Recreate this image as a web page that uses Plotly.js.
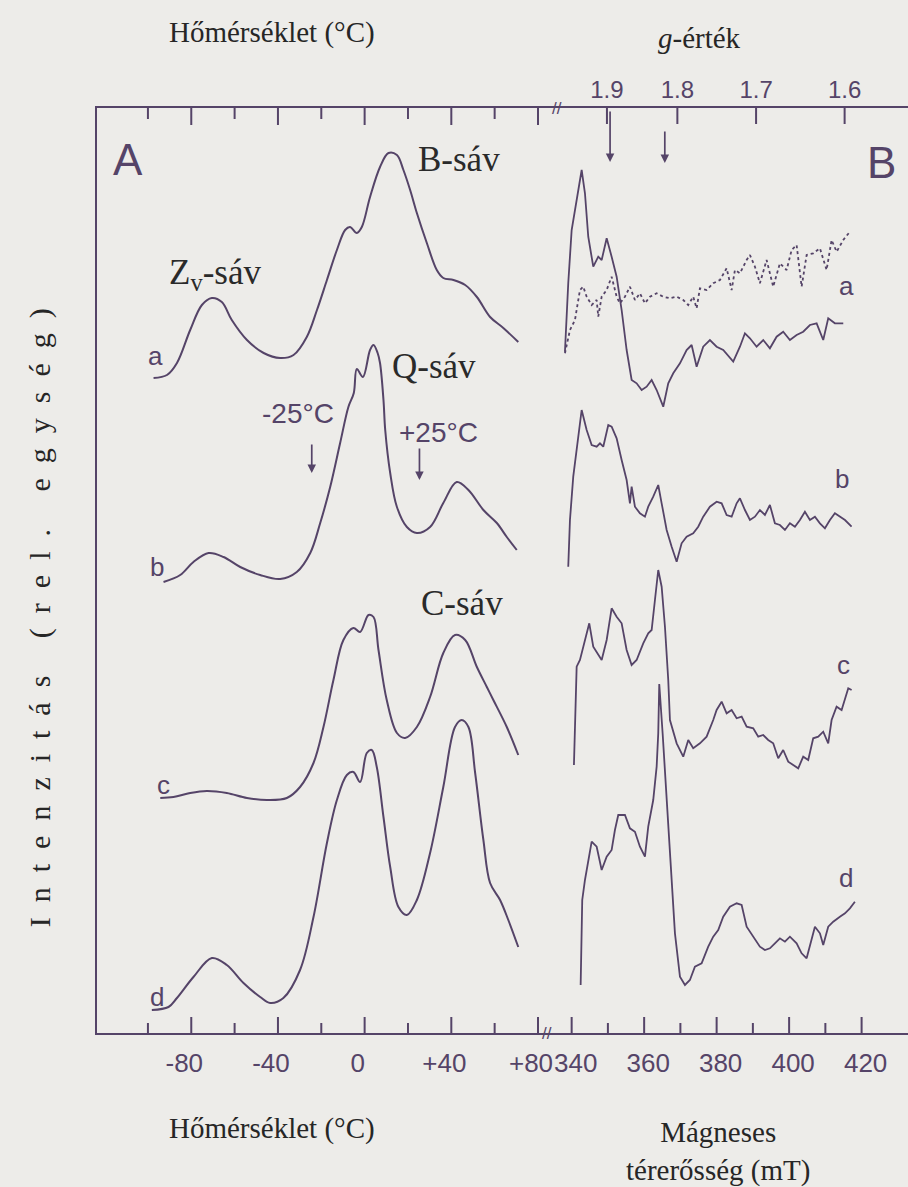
<!DOCTYPE html>
<html><head><meta charset="utf-8">
<script src="https://cdn.plot.ly/plotly-3.0.1.min.js"></script>
<style>html,body{margin:0;padding:0;background:#edece9;}#chart{width:908px;height:1187px;}</style>
</head><body><div id="chart"></div>
<script>
// ---- Panel A: glow curves, temperature (°C) vs intensity (rel. units, vertically offset) ----
const tempA = [-97.4,-91.2,-86.6,-80.5,-75.1,-70.5,-65.9,-61.3,-54.3,-46.6,-39.0,-32.8,-26.7,-22.0,-17.4,-12.8,-9.0,-6.7,-3.6,-1.3,2.5,7.1,11.0,14.9,17.9,21.0,24.1,28.7,33.3,36.3,41.0,46.4,51.8,57.9,64.0,70.9];
const glowA = [655,658,670,703,728,735,731,713,693,680,675,678,696,723,753,783,803,806,800,806,836,866,880,878,863,843,820,790,763,755,753,748,736,716,705,691];
const tempB = [-92.8,-85.1,-79.0,-72.0,-65.1,-57.4,-48.2,-39.0,-31.3,-25.1,-20.5,-15.9,-11.3,-7.5,-5.0,-3.6,-0.8,2.5,4.1,6.0,7.1,8.7,9.5,11.8,14.9,19.5,24.1,30.2,36.3,42.5,47.9,54.8,61.0,65.6,70.2];
const glowB = [451,458,471,480,476,466,458,454,461,480,510,546,590,626,640,664,656,683,688,680,670,633,603,560,526,506,500,506,530,551,543,523,510,496,483];
const tempC = [-94.3,-88.2,-80.5,-72.8,-63.6,-54.3,-45.1,-35.9,-29.8,-23.6,-19.0,-14.4,-9.8,-5.2,-2.1,1.8,4.1,6.4,10.2,14.9,18.7,24.1,30.2,36.3,41.7,46.4,51.8,56.4,59.4,65.6,70.9];
const glowC = [235,236,240,242,240,235,233,235,246,270,306,353,393,405,401,418,416,383,333,300,295,306,336,380,398,393,366,346,333,306,278];
const tempD = [-98.2,-90.5,-86.6,-79.0,-70.5,-63.6,-55.9,-48.2,-43.6,-37.5,-29.8,-23.6,-17.4,-12.8,-8.2,-5.2,-2.1,1.0,3.3,5.6,8.7,11.8,15.6,19.5,24.1,30.2,36.3,41.7,44.8,47.9,51.0,54.8,57.9,62.5,66.3,70.9];
const glowD = [23,26,35,56,75,68,50,36,30,35,63,116,190,233,258,261,251,280,283,266,216,166,126,118,133,180,246,306,313,306,260,193,150,133,113,86];

// ---- Panel B: EPR spectra, magnetic field (mT) vs intensity (rel. units, offset) ----
const fieldA = [338.15,339.06,340.0,341.38,342.76,343.67,344.58,345.96,347.34,348.28,349.66,351.03,352.41,353.79,355.17,356.55,357.93,359.31,360.69,362.07,363.45,365.27,366.65,368.03,369.88,371.72,373.1,374.48,376.3,378.15,380.0,381.82,384.58,386.43,387.81,389.19,391.03,392.86,394.7,396.55,398.37,400.22,402.07,403.89,405.74,407.59,409.41,410.79,412.63,414.94];
const eprA = [681.3,749.7,803,833,863,839.7,796.3,766.3,776.3,773,794.7,776.3,756.3,723,683,653,649.7,643,646.3,653,643,626.3,649.7,659.7,669.7,683,688,666.3,686.3,693,686.3,683,671.3,686.3,699.7,694.7,686.3,693,684.7,696.3,701.3,693,698,701.3,708,709.7,693,714.7,709.7,709.7];
const fieldA2 = [338.15,339.53,340.91,342.29,343.2,344.14,345.52,346.9,347.34,348.28,349.66,351.03,352.41,353.32,354.7,356.08,357.46,358.84,360.22,361.6,363.45,365.27,367.12,368.97,370.79,372.17,373.54,374.48,375.39,377.24,379.06,380.91,382.76,384.14,385.05,386.43,388.28,389.19,390.57,391.94,393.79,395.61,397.46,399.31,400.69,402.07,403.45,404.83,406.65,408.5,410.34,411.72,413.1,414.94,416.77];
const eprA2 = [679.7,703,713,743,746.3,736.3,728,733,716.3,736.3,743,756.3,736.3,729.7,736.3,746.3,733,739.7,729.7,736.3,739.7,736.3,734.7,736.3,733,728,736.3,724.7,744.7,743,749.7,753,764.7,743,763,759.7,773,778,766.3,749.7,773,746.3,769.7,763,783,788,746.3,778,779.7,784.7,763,793,781.3,793,801.3];
const fieldB = [339.06,339.53,340.44,341.82,342.76,344.14,345.52,346.9,347.81,348.72,350.1,351.03,352.41,353.79,355.17,356.08,356.55,357.46,358.84,360.22,361.13,362.51,363.89,364.83,366.21,367.59,368.97,370.34,371.72,373.54,374.92,376.3,378.15,380.0,381.38,382.76,384.14,385.52,386.43,387.81,389.19,390.57,391.94,393.32,394.7,396.08,397.46,398.84,400.22,401.6,402.98,404.36,405.74,407.12,408.5,409.88,411.26,412.63,414.01,415.41,417.24];
const eprB = [466.3,513,556.3,593,623,603,588,586.3,589.7,586.3,608,606.3,594.7,573,553,529.7,546.3,526.3,519.7,516.3,526.3,536.3,548,529.7,503,486.3,471.3,489.7,496.3,499.7,506.3,516.3,526.3,531.3,529.7,518,516.3,529.7,534.7,523,513,516.3,523,518,528,509.7,508,503,509.7,506.3,513,521.3,513,516.3,509.7,504.7,513,519.7,516.3,513,506.3];
const fieldC = [340.63,341.38,342.29,343.67,344.86,345.96,347.34,348.28,349.66,351.03,352.41,353.79,355.17,356.55,357.93,359.75,361.13,362.07,362.98,363.89,364.83,365.74,366.65,367.12,368.97,370.79,372.17,373.54,375.39,377.24,379.06,380.0,381.38,382.76,384.14,385.52,386.9,388.28,390.1,391.48,392.86,394.23,395.61,396.99,398.37,399.75,401.13,402.51,403.89,405.27,406.65,408.03,409.41,410.79,411.72,413.1,414.48,415.41,416.32,417.24];
const eprC = [268,366.3,373,393,409.7,386.3,378,373,393,424.7,416.3,409.7,383,368,373,389.7,399.7,403,433,463,446.3,406.3,353,313,289.7,276.3,293,284.7,289.7,296.3,313,323,331.3,319.7,323,314.7,316.3,306.3,304.7,296.3,298,293,289.7,274.7,283,271.3,268,264.7,276.3,273,294.7,296.3,301.3,289.7,313,326.3,323,333,344.7,343];
const fieldD = [342.48,342.92,343.67,344.58,345.52,346.9,348.28,349.66,351.03,351.94,352.86,354.7,356.08,357.46,358.84,360.22,361.13,362.51,363.45,363.89,364.17,365.1,366.21,367.31,368.5,369.88,371.26,372.63,374.01,375.86,377.68,379.06,380.44,381.82,383.67,385.52,386.9,388.28,390.1,391.94,393.32,394.7,396.08,397.46,398.84,400.22,402.07,403.45,404.83,406.21,407.12,408.5,409.41,410.79,412.17,414.01,415.41,416.77,418.15];
const eprD = [48,133,153,173,191.3,186.3,163,176.3,183,203,218,218,204.7,201.3,186.3,176.3,206.3,233,266.3,299.7,349,299.7,233,166.3,99.7,56.3,48,53,66.3,69.7,86.3,96.3,103,116.3,126.3,129.7,128,106.3,96.3,86.3,83,84.7,89.7,94.7,91.3,96.3,89.7,79.7,74.7,93,106.3,99.7,88,106.3,111.3,116.3,119.7,124.7,131.3];

// ---- Axis ticks ----
const tempTicks = [-80,-40,0,40,80];
const tempTickText = ['-80','-40','0','+40','+80'];
const tempMinor = [-100,-60,-20,20,60];
const fieldTicks = [340,360,380,400,420];
const fieldMinor = [350,370,390,410];
const gValues = [1.9,1.8,1.7,1.6];
const gLabels = ['1.9','1.8','1.7','1.6'];
const G_FACTOR = 664.5; // h·ν/μB in mT (≈9.3 GHz): B = G_FACTOR / g
const gArrowFields = [350.6, 365.7];

const INK = '#554468';
const SERIF = 'Liberation Serif, Times New Roman, serif';
const SANS = 'Liberation Sans, Arial, sans-serif';
const T_RANGE = [-123.5, 86];
const B_RANGE = [334.3, 432.8];
const Y_RANGE = [0, 925];

function glow(x, y){ return {x:x, y:y, xaxis:'x', yaxis:'y', mode:'lines', line:{color:INK, width:2, shape:'spline', smoothing:1}, hoverinfo:'skip'}; }
function epr(x, y, dash){ return {x:x, y:y, xaxis:'x2', yaxis:'y', mode:'lines', line:{color:INK, width:1.8, dash:dash||'solid'}, hoverinfo:'skip'}; }

const traces = [
  glow(tempA, glowA), glow(tempB, glowB), glow(tempC, glowC), glow(tempD, glowD),
  epr(fieldA, eprA), epr(fieldA2, eprA2, 'dot'), epr(fieldB, eprB), epr(fieldC, eprC), epr(fieldD, eprD)
];

const tickFont = {family:SANS, size:26, color:INK};
const ann = [];
function txt(text, x, y, xref, yref, font, extra){ ann.push(Object.assign({text:text, x:x, y:y, xref:xref, yref:yref, showarrow:false, font:font, xanchor:'center', yanchor:'middle'}, extra||{})); }
const bandFont = {family:SERIF, size:35, color:'#2a2a2a'};
const curveFont = {family:SANS, size:26, color:INK};

// panel letters
txt('A', -109.1, 874, 'x', 'y', {family:SANS, size:44, color:INK});
txt('B', 425.6, 871, 'x2', 'y', {family:SANS, size:44, color:INK});
// band labels
txt('B-sáv', 43.6, 874, 'x', 'y', bandFont);
txt('Z<sub>v</sub>-sáv', -69.0, 759, 'x', 'y', bandFont);
txt('Q-sáv', 32.1, 667, 'x', 'y', bandFont);
txt('C-sáv', 45.0, 430, 'x', 'y', bandFont);
txt('-25°C', -30.7, 620, 'x', 'y', {family:SANS, size:28, color:INK});
txt('+25°C', 33.9, 601, 'x', 'y', {family:SANS, size:28, color:INK});
// curve letters
[['a',-96.6,677],['b',-95.7,466],['c',-93.0,248],['d',-95.7,36]].forEach(c=>txt(c[0], c[1], c[2], 'x', 'y', curveFont));
[['a',415.9,747],['b',414.5,554],['c',415.1,368],['d',415.7,155]].forEach(c=>txt(c[0], c[1], c[2], 'x2', 'y', curveFont));
// arrows
function arrow(x, xref, yTip, yTail){ ann.push({x:x, y:yTip, ax:x, ay:yTail, xref:xref, yref:'y', axref:xref, ayref:'y', showarrow:true, arrowhead:2, arrowsize:1, arrowwidth:1.7, arrowcolor:INK, text:''}); }
arrow(-24.4, 'x', 560, 590);
arrow(25.3, 'x', 553, 586);
arrow(gArrowFields[0], 'x2', 871, 923);
arrow(gArrowFields[1], 'x2', 870, 903);
// axis breaks
txt('//', 0.5672, 1.0, 'paper', 'paper', {family:SANS, size:17, color:INK});
txt('//', 0.5549, 0.0, 'paper', 'paper', {family:SANS, size:17, color:INK});
// titles
const titleFont = {family:SERIF, size:29, color:'#262626'};
txt('Hőmérséklet (°C)', 0.2158, 1.0811, 'paper', 'paper', titleFont);
txt('<i>g</i>-érték', 0.7435, 1.0757, 'paper', 'paper', titleFont);
txt('Hőmérséklet (°C)', 0.2158, -0.103, 'paper', 'paper', titleFont);
txt('Mágneses<br>térerősség (mT)', 0.766, -0.128, 'paper', 'paper', titleFont);
txt('Intenzitás (rel. egység)', -0.0703, 0.457, 'paper', 'paper', {family:SERIF, size:30, color:'#262626'}, {textangle:-90});

// tick marks drawn as short line shapes at the axis values (inside the frame)
const shapes = [];
function tickRow(xref, vals, atTop, len){
  const span = Y_RANGE[1] - Y_RANGE[0];
  vals.forEach(function(v){
    const y0 = atTop ? Y_RANGE[1] : Y_RANGE[0];
    const y1 = atTop ? Y_RANGE[1] - len * span / 925 : Y_RANGE[0] + len * span / 925;
    shapes.push({type:'line', xref:xref, yref:'y', x0:v, x1:v, y0:y0, y1:y1, line:{color:INK, width:2}, layer:'above'});
  });
}
tickRow('x', tempTicks, false, 16);
tickRow('x', tempMinor, false, 10);
tickRow('x', tempTicks, true, 17);
tickRow('x', tempMinor, true, 11);
tickRow('x2', fieldTicks, false, 16);
tickRow('x2', fieldMinor, false, 10);
tickRow('x2', gValues.map(g => G_FACTOR / g), true, 16);

const layout = {
  width:908, height:1187,
  margin:{l:97, r:0, t:108, b:154, pad:0},
  paper_bgcolor:'#edece9', plot_bgcolor:'#edece9',
  showlegend:false,
  xaxis:{domain:[0,0.5598], range:T_RANGE, anchor:'y',
    showline:true, linecolor:INK, linewidth:2, mirror:true,
    tickmode:'array', tickvals:tempTicks, ticktext:tempTickText, ticks:'',
    tickfont:tickFont, ticklabelstandoff:6, ticklabelshift:-7, showgrid:false, zeroline:false},
  xaxis2:{domain:[0.5598,1], range:B_RANGE, anchor:'y',
    showline:true, linecolor:INK, linewidth:2, mirror:true,
    tickmode:'array', tickvals:fieldTicks, ticks:'',
    tickfont:tickFont, ticklabelstandoff:6, ticklabelshift:4, showgrid:false, zeroline:false},
  xaxis4:{overlaying:'x2', side:'top', anchor:'y', range:B_RANGE,
    tickmode:'array', tickvals:gValues.map(g=>G_FACTOR/g), ticktext:gLabels, ticks:'',
    tickfont:{family:SANS, size:24, color:INK}, ticklabelstandoff:4, showline:false, showgrid:false, zeroline:false},
  yaxis:{domain:[0,1], range:Y_RANGE, anchor:'x', showline:true, linecolor:INK, linewidth:2, mirror:false,
    ticks:'', showticklabels:false, showgrid:false, zeroline:false},
  shapes:shapes,
  annotations:ann
};
// invisible point so the g-value label axis is drawn
traces.push({x:[G_FACTOR/gValues[0]], y:[-50], xaxis:'x4', yaxis:'y', mode:'markers', marker:{opacity:0}, hoverinfo:'skip'});

Plotly.newPlot('chart', traces, layout, {staticPlot:true}).then(function(){
  document.querySelectorAll('.annotation-text').forEach(function(el){
    if (el.textContent === 'Intenzitás (rel. egység)') { el.style.letterSpacing = '15px'; }
  });
});
</script></body></html>
